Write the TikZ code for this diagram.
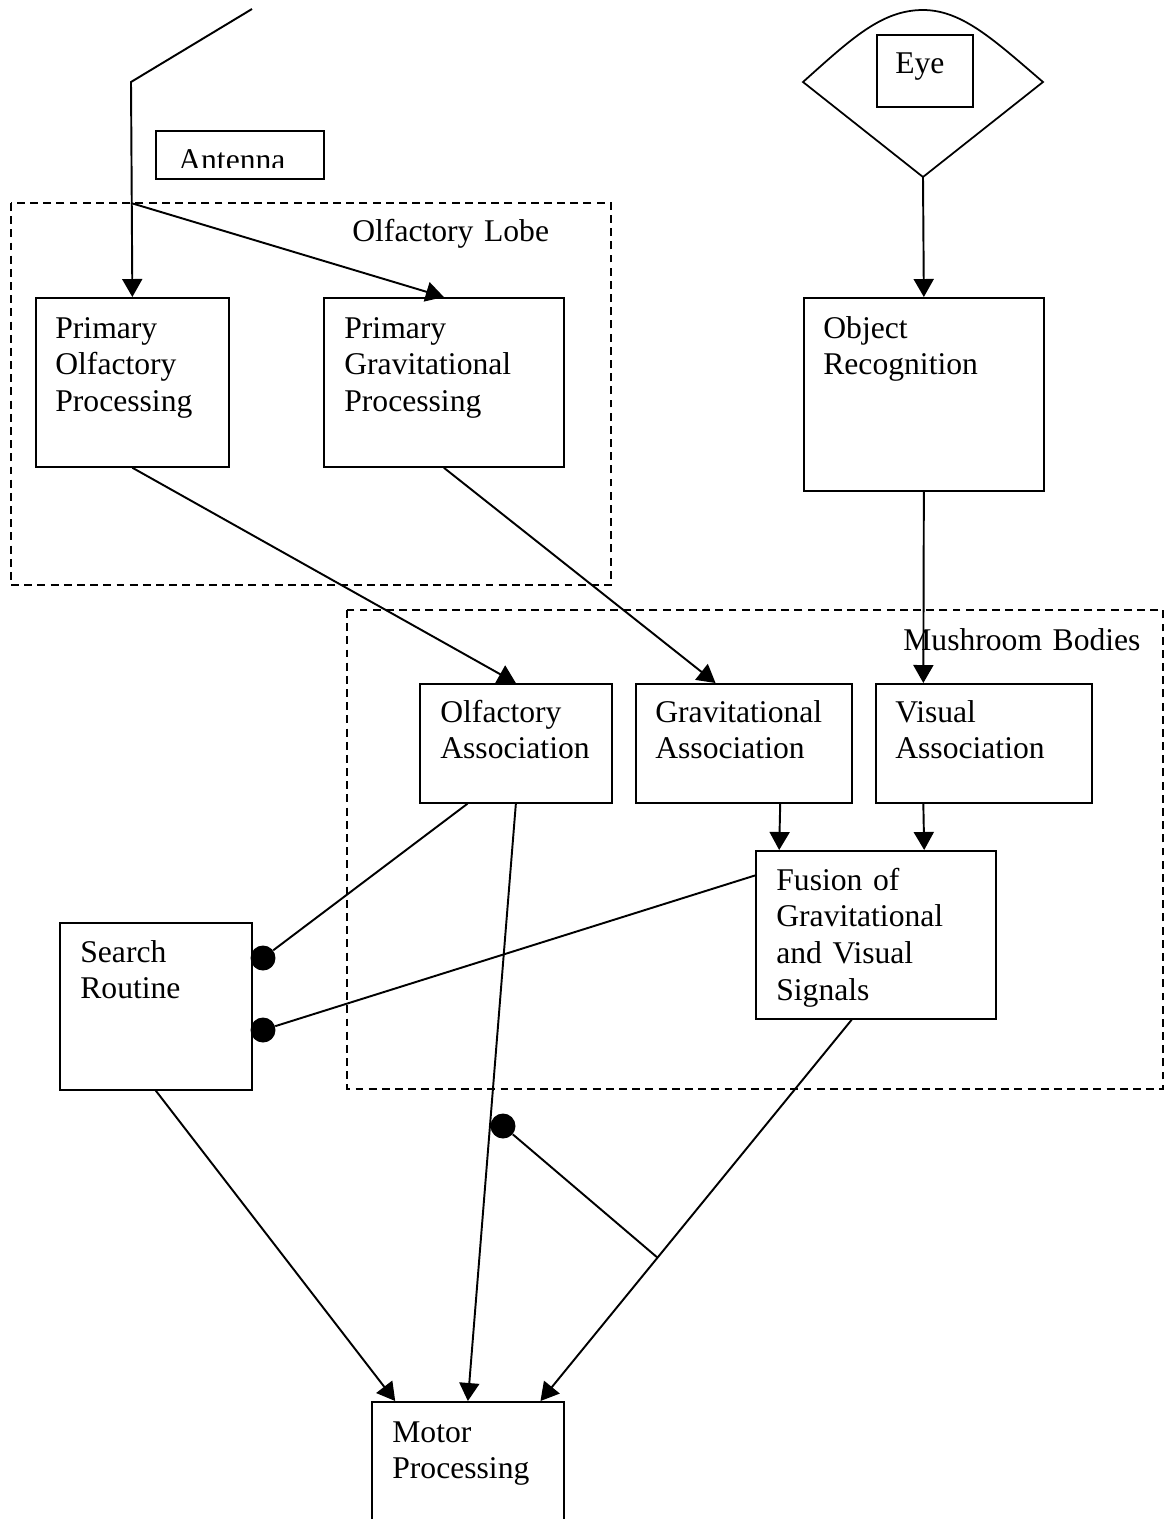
\documentclass[tikz,border=0pt]{standalone}
\usepackage{fontspec}
\setmainfont{Liberation Serif}
\usetikzlibrary{calc}
\usetikzlibrary{arrows.meta}

\tikzset{
  box/.style={draw,line width=1pt,rectangle,inner sep=0,anchor=north west},
  txt/.style={anchor=base west,align=left,text width=6cm,inner sep=0},
  lobe/.style={draw,line width=1pt,dash pattern=on 4.5pt off 3pt},
  arr/.style={line width=1.1pt,-{Triangle[length=0.36cm,width=0.4cm]}},
  wire/.style={line width=1.1pt},
  dot/.style={circle,fill=black,inner sep=0,minimum size=0.5cm}
}

\begin{document}
\begin{tikzpicture}[x=0.02cm,y=-0.02cm,font=\fontsize{18}{21}\selectfont]
\useasboundingbox (0,0) rectangle (1166,1519);

% lobes
\draw[lobe] (11,203) rectangle (611,585);
\draw[lobe] (347,610) rectangle (1163,1089);
\node[txt] (ol) at (352,241) {Olfactory Lobe};
\node[txt] (mb) at (903,650) {Mushroom Bodies};

% boxes
\node[box,minimum width=3.86cm,minimum height=3.38cm] (pop) at (35,297) {};
\node[box,minimum width=4.8cm,minimum height=3.38cm] (pgp) at (323,297) {};
\node[box,minimum width=4.8cm,minimum height=3.86cm] (obj) at (803,297) {};
\node[box,minimum width=3.84cm,minimum height=2.38cm] (oa) at (419,683) {};
\node[box,minimum width=4.32cm,minimum height=2.38cm] (ga) at (635,683) {};
\node[box,minimum width=4.32cm,minimum height=2.38cm] (va) at (875,683) {};
\node[box,minimum width=4.8cm,minimum height=3.36cm] (fu) at (755,850) {};
\node[box,minimum width=3.84cm,minimum height=3.34cm] (sr) at (59,922) {};
\node[box,minimum width=3.84cm,minimum height=3.2cm] (mp) at (371,1401) {};

\node[txt] (pop-t) at ($(pop.north west)+(20,41)$) {Primary\\Olfactory\\Processing};
\node[txt] (pgp-t) at ($(pgp.north west)+(21,41)$) {Primary\\Gravitational\\Processing};
\node[txt] (obj-t) at ($(obj.north west)+(20,41)$) {Object\\Recognition};
\node[txt] (oa-t) at ($(oa.north west)+(21,39)$) {Olfactory\\Association};
\node[txt] (ga-t) at ($(ga.north west)+(20,39)$) {Gravitational\\Association};
\node[txt] (va-t) at ($(va.north west)+(20,39)$) {Visual\\Association};
\node[txt] (fu-t) at ($(fu.north west)+(21,40)$) {Fusion of\\Gravitational\\and Visual\\Signals};
\node[txt] (sr-t) at ($(sr.north west)+(21,40)$) {Search\\Routine};
\node[txt] (mp-t) at ($(mp.north west)+(21,41)$) {Motor\\Processing};

% antenna
\node[box,minimum width=3.36cm,minimum height=0.96cm] (ant) at (155,130) {};
\begin{scope}
\clip (150,125) rectangle (330,167);
\node[txt] (ant-t) at (178,170) {Antenna};
\end{scope}
\coordinate (tip) at (252,9);
\coordinate (bend) at (131,82);
\coordinate (split) at (131,203);
\draw[arr] (tip) -- (bend) -- (pop.north);
\draw[arr] (split) -- (pgp.north);

% eye
\coordinate (eyeL) at (803,82);
\coordinate (eyeR) at (1043,82);
\coordinate (eyeB) at (923,177);
\draw[line width=1pt] (eyeL) .. controls (852,38) and (882,10) .. (923,10)
  .. controls (962,10) and (994,40) .. (eyeR) -- (eyeB) -- cycle;
\node[box,minimum width=1.92cm,minimum height=1.44cm] (eyeb) at (876,34) {};
\node[txt] (eye-t) at (895,73) {Eye};
\draw[arr] (eyeB) -- (obj.north);

% into the mushroom bodies
\draw[arr] (pop.south) -- (oa.north);
\draw[arr] (pgp.south) -- ($(ga.north west)!0.37!(ga.north east)$);
\draw[arr] (obj.south) -- ($(va.north west)!0.222!(va.north east)$);
\draw[arr] ($(ga.south west)!0.667!(ga.south east)$) -- ($(fu.north west)!0.1!(fu.north east)$);
\draw[arr] ($(va.south west)!0.222!(va.south east)$) -- ($(fu.north west)!0.7!(fu.north east)$);

% inhibition
\node[dot] (d1) at (263,958) {};
\node[dot] (d2) at (263,1030) {};
\node[dot] (d3) at (503,1126) {};
\draw[wire] ($(oa.south west)!0.25!(oa.south east)$) -- (d1);
\draw[wire] ($(fu.north west)!0.15!(fu.south west)$) -- (d2);

% to motor
\coordinate (fs) at ($(fu.south west)!0.4!(fu.south east)$);
\coordinate (mr) at ($(mp.north west)!0.875!(mp.north east)$);
\coordinate (j) at ($(fs)!0.624!(mr)$);
\draw[arr] (oa.south) -- (mp.north);
\draw[arr] (sr.south) -- ($(mp.north west)!0.125!(mp.north east)$);
\draw[arr] (fs) -- (mr);
\draw[wire] (d3) -- (j);
\end{tikzpicture}
\end{document}
